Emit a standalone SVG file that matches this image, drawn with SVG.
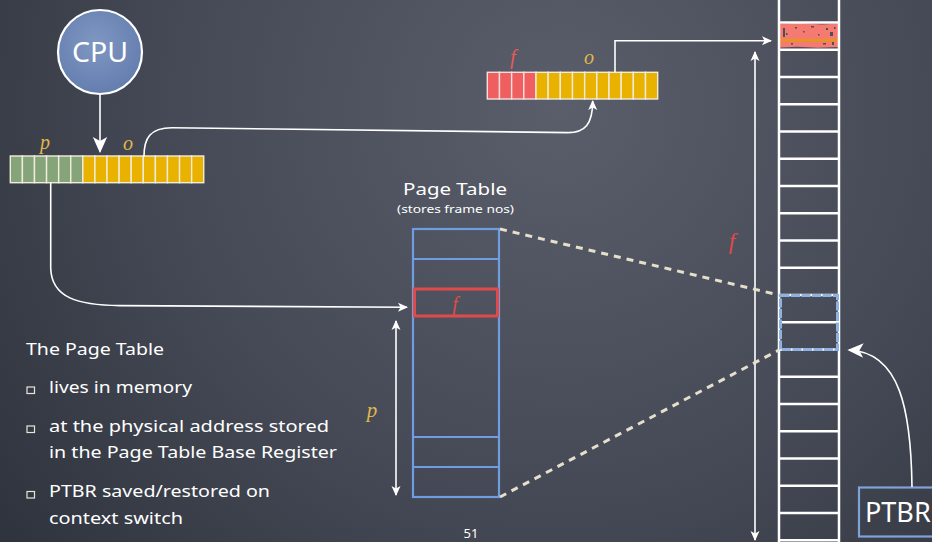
<svg xmlns="http://www.w3.org/2000/svg" width="932" height="542" viewBox="0 0 932 542">
  <defs>
    <radialGradient id="board" cx="560" cy="110" r="720" gradientUnits="userSpaceOnUse">
      <stop offset="0" stop-color="#595e6a"/>
      <stop offset="0.55" stop-color="#444955"/>
      <stop offset="1" stop-color="#2e323c"/>
    </radialGradient>
    <radialGradient id="cpuFill" cx="0.45" cy="0.4" r="0.65">
      <stop offset="0" stop-color="#7f97c2"/>
      <stop offset="1" stop-color="#627cad"/>
    </radialGradient>
    <marker id="head" viewBox="0 0 10 10" refX="9" refY="5" markerWidth="10" markerHeight="10" markerUnits="userSpaceOnUse" orient="auto">
      <path d="M0,0.5 L10,5 L0,9.5 L2.5,5 Z" fill="#ffffff"/>
    </marker>
    <marker id="headBig" viewBox="0 0 10 10" refX="9" refY="5" markerWidth="16" markerHeight="16" markerUnits="userSpaceOnUse" orient="auto">
      <path d="M0,0.5 L10,5 L0,9.5 L2.5,5 Z" fill="#ffffff"/>
    </marker>
    <marker id="tail" viewBox="0 0 10 10" refX="1" refY="5" markerWidth="10" markerHeight="10" markerUnits="userSpaceOnUse" orient="auto">
      <path d="M10,0.5 L0,5 L10,9.5 L7.5,5 Z" fill="#ffffff"/>
    </marker>
  </defs>
  <style>
    .txt { font-family: "Noto Sans", "DejaVu Sans", sans-serif; fill: #ffffff; }
    .math { font-family: "Liberation Serif", "DejaVu Serif", serif; font-style: italic; }
    .wire { fill: none; stroke: #ffffff; stroke-width: 1.6; }
    .dash { fill: none; stroke: #e6dfcb; stroke-width: 3; stroke-dasharray: 7 6; }
    .bitG { fill: #86a47a; stroke: #f2ecdc; stroke-width: 1.4; }
    .bitY { fill: #e9b100; stroke: #f2ecdc; stroke-width: 1.4; }
    .bitR { fill: #ef5f5f; stroke: #f6dede; stroke-width: 1.4; }
    .mem { stroke: #ffffff; stroke-width: 2.5; }
    .pt { fill: none; stroke: #6f9de2; stroke-width: 2.2; }
    .bullet { fill: none; stroke: #e8e4da; stroke-width: 1.2; }
    .speck { fill: #4d4f58; }
  </style>

  <!-- chalkboard -->
  <rect x="0" y="0" width="932" height="542" fill="url(#board)"/>

  <!-- CPU -->
  <g id="cpu">
    <circle cx="100" cy="52" r="42" fill="url(#cpuFill)" stroke="#ffffff" stroke-width="2.2"/>
    <text class="txt" x="100" y="62" font-size="28" text-anchor="middle" textLength="56" lengthAdjust="spacingAndGlyphs">CPU</text>
  </g>

  <!-- logical address: page number p + offset o -->
  <g id="logical-address">
    <rect class="bitG" x="10.3" y="156" width="12.09" height="26.7"/>
    <rect class="bitG" x="22.39" y="156" width="12.09" height="26.7"/>
    <rect class="bitG" x="34.48" y="156" width="12.09" height="26.7"/>
    <rect class="bitG" x="46.57" y="156" width="12.09" height="26.7"/>
    <rect class="bitG" x="58.66" y="156" width="12.09" height="26.7"/>
    <rect class="bitG" x="70.75" y="156" width="12.09" height="26.7"/>
    <rect class="bitY" x="82.84" y="156" width="12.09" height="26.7"/>
    <rect class="bitY" x="94.93" y="156" width="12.09" height="26.7"/>
    <rect class="bitY" x="107.02" y="156" width="12.09" height="26.7"/>
    <rect class="bitY" x="119.11" y="156" width="12.09" height="26.7"/>
    <rect class="bitY" x="131.2" y="156" width="12.09" height="26.7"/>
    <rect class="bitY" x="143.29" y="156" width="12.09" height="26.7"/>
    <rect class="bitY" x="155.38" y="156" width="12.09" height="26.7"/>
    <rect class="bitY" x="167.47" y="156" width="12.09" height="26.7"/>
    <rect class="bitY" x="179.56" y="156" width="12.09" height="26.7"/>
    <rect class="bitY" x="191.65" y="156" width="12.09" height="26.7"/>
    <text class="math" x="45" y="149" font-size="20" fill="#e2b84a" text-anchor="middle">p</text>
    <text class="math" x="128" y="150" font-size="20" fill="#e2b84a" text-anchor="middle">o</text>
  </g>

  <!-- physical address: frame f + offset o -->
  <g id="physical-address">
    <rect class="bitR" x="487.3" y="72.3" width="12.17" height="26.7"/>
    <rect class="bitR" x="499.47" y="72.3" width="12.17" height="26.7"/>
    <rect class="bitR" x="511.64" y="72.3" width="12.17" height="26.7"/>
    <rect class="bitR" x="523.81" y="72.3" width="12.17" height="26.7"/>
    <rect class="bitY" x="535.98" y="72.3" width="12.17" height="26.7"/>
    <rect class="bitY" x="548.15" y="72.3" width="12.17" height="26.7"/>
    <rect class="bitY" x="560.32" y="72.3" width="12.17" height="26.7"/>
    <rect class="bitY" x="572.49" y="72.3" width="12.17" height="26.7"/>
    <rect class="bitY" x="584.66" y="72.3" width="12.17" height="26.7"/>
    <rect class="bitY" x="596.83" y="72.3" width="12.17" height="26.7"/>
    <rect class="bitY" x="609" y="72.3" width="12.17" height="26.7"/>
    <rect class="bitY" x="621.17" y="72.3" width="12.17" height="26.7"/>
    <rect class="bitY" x="633.34" y="72.3" width="12.17" height="26.7"/>
    <rect class="bitY" x="645.51" y="72.3" width="12.17" height="26.7"/>
    <text class="math" x="513" y="64" font-size="21" fill="#e65a5a" text-anchor="middle">f</text>
    <text class="math" x="589" y="64" font-size="20" fill="#e2b84a" text-anchor="middle">o</text>
  </g>

  <!-- page table -->
  <g id="page-table">
    <text class="txt" x="455" y="195" font-size="16" text-anchor="middle" textLength="104" lengthAdjust="spacingAndGlyphs">Page Table</text>
    <text class="txt" x="455.5" y="213" font-size="11" text-anchor="middle" textLength="117" lengthAdjust="spacingAndGlyphs">(stores frame nos)</text>
    <rect class="pt" x="413" y="229" width="86" height="268" stroke="#5e9fe0"/>
    <line class="pt" x1="413" y1="259" x2="499" y2="259"/>
    <line class="pt" x1="413" y1="437" x2="499" y2="437"/>
    <line class="pt" x1="413" y1="467" x2="499" y2="467"/>
    <rect x="414.5" y="289" width="83" height="27" fill="none" stroke="#e24a4a" stroke-width="3"/>
    <text class="math" x="455" y="311" font-size="20" fill="#e04a4a" text-anchor="middle">f</text>
  </g>

  <!-- physical memory frames -->
  <g id="memory">
    <!-- chalk-filled target frame -->
    <path d="M780,24 L800,23 L822,24.5 L839,23.5 L839,47 L818,47.8 L797,46.8 L780,47.5 Z" fill="#f47a72"/>
    <rect class="speck" x="783" y="28" width="2" height="9"/>
    <rect class="speck" x="786" y="33" width="1.5" height="2"/>
    <rect class="speck" x="795" y="27" width="2" height="1.5"/>
    <rect class="speck" x="803" y="31" width="1.5" height="1.5"/>
    <rect class="speck" x="811" y="26" width="3" height="1.5"/>
    <rect class="speck" x="818" y="34" width="1.5" height="1.5"/>
    <rect class="speck" x="826" y="28" width="2" height="2"/>
    <rect class="speck" x="830" y="32" width="3" height="4"/>
    <rect class="speck" x="834" y="27" width="1.5" height="2"/>
    <rect class="speck" x="791" y="43" width="2" height="1.5"/>
    <rect class="speck" x="823" y="43" width="3" height="1.5"/>
    <rect class="speck" x="832" y="42" width="2" height="3"/>
    <line x1="780" y1="40.3" x2="839" y2="40.3" stroke="#e2a000" stroke-width="2"/>
    <line class="mem" x1="779" y1="0" x2="779" y2="542"/>
    <line class="mem" x1="839" y1="0" x2="839" y2="542"/>
    <line class="mem" x1="779" y1="22.5" x2="839" y2="22.5"/>
    <line class="mem" x1="779" y1="49.75" x2="839" y2="49.75"/>
    <line class="mem" x1="779" y1="77" x2="839" y2="77"/>
    <line class="mem" x1="779" y1="104.25" x2="839" y2="104.25"/>
    <line class="mem" x1="779" y1="131.5" x2="839" y2="131.5"/>
    <line class="mem" x1="779" y1="158.75" x2="839" y2="158.75"/>
    <line class="mem" x1="779" y1="186" x2="839" y2="186"/>
    <line class="mem" x1="779" y1="213.25" x2="839" y2="213.25"/>
    <line class="mem" x1="779" y1="240.5" x2="839" y2="240.5"/>
    <line class="mem" x1="779" y1="267.75" x2="839" y2="267.75"/>
    <line class="mem" x1="779" y1="295" x2="839" y2="295"/>
    <line class="mem" x1="779" y1="322.25" x2="839" y2="322.25"/>
    <line class="mem" x1="779" y1="349.5" x2="839" y2="349.5"/>
    <line class="mem" x1="779" y1="376.75" x2="839" y2="376.75"/>
    <line class="mem" x1="779" y1="404" x2="839" y2="404"/>
    <line class="mem" x1="779" y1="431.25" x2="839" y2="431.25"/>
    <line class="mem" x1="779" y1="458.5" x2="839" y2="458.5"/>
    <line class="mem" x1="779" y1="485.75" x2="839" y2="485.75"/>
    <line class="mem" x1="779" y1="513" x2="839" y2="513"/>
    <line class="mem" x1="779" y1="540.25" x2="839" y2="540.25"/>
    <!-- frames holding the page table -->
    <rect x="780.5" y="295.5" width="57" height="54" fill="none" stroke="#8fb2e0" stroke-width="3" stroke-dasharray="9 1.5"/>
    <text class="math" x="732" y="249" font-size="23" fill="#e04a4a" text-anchor="middle">f</text>
  </g>

  <!-- page table base register -->
  <g id="ptbr">
    <rect x="859" y="487.5" width="80" height="49" fill="none" stroke="#7fa3d6" stroke-width="2.2"/>
    <text class="txt" x="865" y="522" font-size="27">PTBR</text>
  </g>

  <!-- notes -->
  <g id="notes">
    <text class="txt" x="26" y="355" font-size="16" textLength="138" lengthAdjust="spacingAndGlyphs">The Page Table</text>
    <rect class="bullet" x="27" y="387" width="7.5" height="6.5"/>
    <text class="txt" x="49" y="393" font-size="16" textLength="143" lengthAdjust="spacingAndGlyphs">lives in memory</text>
    <rect class="bullet" x="27" y="426" width="7.5" height="6.5"/>
    <text class="txt" x="49" y="432" font-size="16" textLength="280" lengthAdjust="spacingAndGlyphs">at the physical address stored</text>
    <text class="txt" x="49" y="458" font-size="16" textLength="288" lengthAdjust="spacingAndGlyphs">in the Page Table Base Register</text>
    <rect class="bullet" x="27" y="491.5" width="7.5" height="6.5"/>
    <text class="txt" x="49" y="497" font-size="16" textLength="221" lengthAdjust="spacingAndGlyphs">PTBR saved/restored on</text>
    <text class="txt" x="49" y="524" font-size="16" textLength="134" lengthAdjust="spacingAndGlyphs">context switch</text>
    <text class="txt" x="471" y="538" font-size="13" text-anchor="middle">51</text>
  </g>

  <!-- connectors -->
  <g id="connectors">
    <line class="wire" x1="100" y1="94" x2="100" y2="151.5" stroke-width="2.2" marker-end="url(#headBig)"/>
    <path class="wire" d="M50.7,183 L50.7,268 C51.5,298 78,305.2 120,305.6 L407,307.3" marker-end="url(#head)"/>
    <path class="wire" d="M144,156.5 C144,138 150,128 172,127.8 L568,132.6 C585,132.6 592.7,124 592.7,101" marker-end="url(#head)"/>
    <path class="wire" d="M615,72.3 L615,40.7 L771,40.7" stroke="#e8e8e8" marker-end="url(#head)"/>
    <line class="wire" x1="396" y1="321" x2="396" y2="495" marker-start="url(#tail)" marker-end="url(#head)"/>
    <text class="math" x="372" y="417" font-size="21" fill="#e2b84a" text-anchor="middle">p</text>
    <line class="wire" x1="755" y1="52" x2="755" y2="540" marker-start="url(#tail)" marker-end="url(#head)"/>
    <path class="wire" d="M912,487 C911,410 900,352 849,350" stroke-width="3" marker-end="url(#headBig)"/>
    <line class="dash" x1="500" y1="229" x2="779" y2="295"/>
    <line class="dash" x1="500" y1="497" x2="779" y2="350"/>
  </g>
</svg>
